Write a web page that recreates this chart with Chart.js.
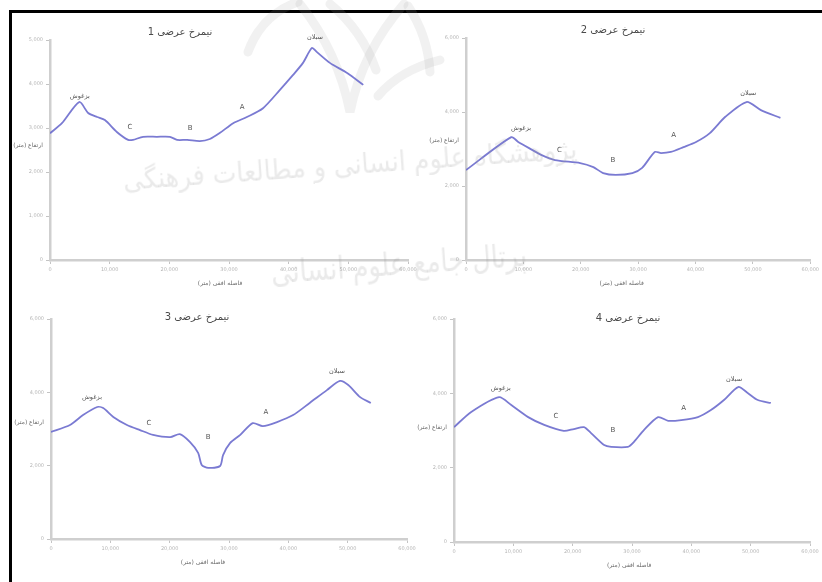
<!DOCTYPE html>
<html lang="fa">
<head>
<meta charset="utf-8">
<script src="https://cdn.jsdelivr.net/npm/chart.js@4.4.1/dist/chart.umd.min.js"></script>
<style>
  html, body { margin: 0; padding: 0; background: #fff; }
  body { width: 822px; height: 582px; position: relative; overflow: hidden; font-family: "DejaVu Sans", sans-serif; }
  .frame { position: absolute; left: 9px; top: 10px; width: 830px; height: 600px; border-left: 3px solid #000; border-top: 3px solid #000; }
  canvas.panel { position: absolute; }
  .wm { position: absolute; direction: rtl; text-align: center; white-space: nowrap; color: rgba(150,150,150,0.2); font-family: "DejaVu Sans", sans-serif; pointer-events: none; }
  svg.logo { position: absolute; left: 0; top: 0; pointer-events: none; }
</style>
</head>
<body>
<div class="frame"></div>
<svg class="logo" width="822" height="582" viewBox="0 0 822 582">
  <g fill="none" stroke="rgba(160,160,160,0.15)" stroke-width="9" stroke-linecap="round">
    <path d="M248,52 Q262,14 298,2"/>
    <path d="M300,4 Q338,52 350,112 Q362,52 404,4"/>
    <path d="M330,4 Q362,30 376,70"/>
    <path d="M408,6 Q428,36 430,72"/>
    <path d="M378,96 Q400,70 440,60"/>
  </g>
</svg>
<canvas id="p1" class="panel"></canvas>
<canvas id="p2" class="panel"></canvas>
<canvas id="p3" class="panel"></canvas>
<canvas id="p4" class="panel"></canvas>
<div class="wm" style="left:50px; top:148px; width:600px; font-size:28px; transform: rotate(-4deg) scaleX(0.9);">پژوهشگاه علوم انسانی و مطالعات فرهنگی</div>
<div class="wm" style="left:257px; top:244px; width:300px; font-size:32px; transform: rotate(-4deg) scaleX(0.8);">پرتال جامع علوم انسانی</div>
<script>
// Profile 1: horizontal distance (m) and elevation (m)
const distance1 = [0, 2000, 4900, 6400, 7900, 9200, 11200, 13100, 13900, 15600, 17900, 20100, 21300, 23000, 25100, 26800, 28500, 30700, 33000, 35700, 38500, 40700, 42400, 43900, 44700, 46900, 49800, 52500];
const elevation1 = [2880, 3110, 3590, 3340, 3250, 3180, 2910, 2730, 2730, 2800, 2800, 2800, 2730, 2730, 2700, 2750, 2890, 3110, 3250, 3450, 3860, 4200, 4480, 4820, 4730, 4480, 4250, 3980];

// Profile 2
const distance2 = [0, 7900, 9100, 11600, 13100, 15500, 19900, 22200, 23900, 26100, 29000, 30700, 32900, 34000, 35700, 37900, 40100, 42500, 45200, 48900, 51400, 54800];
const elevation2 = [2430, 3320, 3190, 2970, 2840, 2700, 2620, 2510, 2350, 2300, 2350, 2490, 2920, 2890, 2920, 3050, 3190, 3430, 3870, 4270, 4050, 3840];

// Profile 3
const distance3 = [0, 3200, 5400, 7800, 8800, 10500, 12800, 15000, 17200, 20100, 21700, 23400, 24800, 25400, 26500, 28500, 29000, 30200, 31900, 34000, 35700, 38100, 40800, 43600, 46500, 48700, 50100, 52100, 53900];
const elevation3 = [2920, 3110, 3380, 3600, 3570, 3330, 3110, 2970, 2840, 2780, 2860, 2650, 2350, 2020, 1940, 1990, 2290, 2620, 2840, 3160, 3080, 3190, 3380, 3710, 4060, 4310, 4200, 3870, 3710];

// Profile 4
const distance4 = [0, 2900, 7600, 9600, 12500, 15200, 18500, 20200, 21900, 23100, 25300, 26500, 29300, 30300, 32000, 34400, 36100, 38300, 41100, 43300, 45500, 47900, 49500, 51200, 53400];
const elevation4 = [3090, 3500, 3900, 3690, 3360, 3150, 2990, 3040, 3090, 2930, 2610, 2560, 2560, 2690, 3010, 3360, 3260, 3280, 3360, 3550, 3820, 4170, 4010, 3820, 3740];

// Axis tick values
const distanceTicks = [0, 10000, 20000, 30000, 40000, 50000, 60000];
const elevationTicks1 = [0, 1000, 2000, 3000, 4000, 5000];
const elevationTicks234 = [0, 2000, 4000, 6000];

// Texts
const panelTitles = ["نیمرخ عرضی 1", "نیمرخ عرضی 2", "نیمرخ عرضی 3", "نیمرخ عرضی 4"];
const xAxisTitle = "فاصله افقی (متر)";
const yAxisTitle = "ارتفاع (متر)";
const westPeak = "بزغوش";
const eastPeak = "سبلان";

// Landform labels per profile: [text, distance, elevation]
const marks1 = [[westPeak, 5000, 3730], ["C", 13400, 3020], ["B", 23500, 3000], ["A", 32200, 3480], [eastPeak, 44400, 5060]];
const marks2 = [[westPeak, 9600, 3570], ["C", 16300, 2970], ["B", 25600, 2700], ["A", 36200, 3380], [eastPeak, 49200, 4510]];
const marks3 = [[westPeak, 6900, 3870], ["C", 16500, 3160], ["B", 26500, 2780], ["A", 36200, 3460], [eastPeak, 48200, 4580]];
const marks4 = [[westPeak, 7900, 4140], ["C", 17200, 3390], ["B", 26800, 3010], ["A", 38700, 3600], [eastPeak, 47200, 4380]];

const FONT = '"DejaVu Sans", sans-serif';

const profileText = {
  id: 'profileText',
  afterDatasetsDraw(chart, args, o) {
    const ctx = chart.ctx, a = chart.chartArea;
    const xs = chart.scales.x, ys = chart.scales.y;
    ctx.save();
    ctx.direction = 'rtl';
    ctx.textAlign = 'center';
    ctx.textBaseline = 'middle';
    // title
    ctx.fillStyle = '#4a4a4a';
    ctx.font = '10px ' + FONT;
    ctx.fillText(o.title, a.left + (a.right - a.left) * o.titleAt, a.top + o.titleDy);
    // axis titles
    ctx.fillStyle = '#6a6a6a';
    ctx.font = '6px ' + FONT;
    ctx.fillText(xAxisTitle, a.left + (a.right - a.left) * o.xTitleAt, a.bottom + 23);
    ctx.fillText(yAxisTitle, a.left - 22, ys.getPixelForValue(o.yTitleAt));
    // landform labels
    ctx.fillStyle = '#555';
    for (const [t, dx, el] of o.marks) {
      ctx.font = (t.length === 1 ? '7px ' : '6.5px ') + FONT;
      ctx.fillText(t, xs.getPixelForValue(dx), ys.getPixelForValue(el));
    }
    ctx.restore();
  }
};

function makeProfile(id, box, dist, elev, yTicks, text) {
  const padTop = 30, yW = 45, xH = 35;
  const cv = document.getElementById(id);
  const w = yW + box.w + box.padR, h = padTop + box.h + xH;
  cv.width = w; cv.height = h;
  cv.style.left = (box.left - yW) + 'px';
  cv.style.top = (box.top - padTop) + 'px';
  cv.style.width = w + 'px'; cv.style.height = h + 'px';
  const axisCommon = {
    border: { display: true, color: '#cfcfcf', width: 2.5 },
    grid: { drawOnChartArea: false, color: '#c4c4c4', tickLength: 4, lineWidth: 1 },
    ticks: { color: '#b5b5b5', font: { size: 5, family: FONT }, padding: 3 }
  };
  new Chart(cv, {
    type: 'line',
    data: {
      datasets: [{
        data: dist.map((d, i) => ({ x: d, y: elev[i] })),
        borderColor: 'rgba(108,108,205,0.9)',
        borderWidth: 1.8,
        pointRadius: 0,
        tension: 0.25,
        fill: false
      }]
    },
    options: {
      responsive: false,
      animation: false,
      devicePixelRatio: 1,
      layout: { padding: { top: padTop, right: box.padR, left: 0, bottom: 0 } },
      plugins: { legend: { display: false }, tooltip: { enabled: false }, profileText: text },
      scales: {
        x: {
          ...axisCommon, type: 'linear', min: distanceTicks[0], max: distanceTicks[distanceTicks.length - 1],
          afterBuildTicks: s => { s.ticks = distanceTicks.map(v => ({ value: v })); },
          afterFit: s => { s.height = xH; },
          ticks: { ...axisCommon.ticks, maxRotation: 0 }
        },
        y: {
          ...axisCommon, type: 'linear', min: yTicks[0], max: yTicks[yTicks.length - 1],
          afterBuildTicks: s => { s.ticks = yTicks.map(v => ({ value: v })); },
          afterFit: s => { s.width = yW; }
        }
      }
    },
    plugins: [profileText]
  });
}

makeProfile('p1', { left: 50, top: 40, w: 358, h: 220, padR: 12 }, distance1, elevation1, elevationTicks1,
  { title: panelTitles[0], titleAt: 0.363, titleDy: -8, xTitleAt: 0.475, yTitleAt: 2600, marks: marks1 });
makeProfile('p2', { left: 466, top: 38, w: 356, h: 222, padR: 0 }, distance2, elevation2, elevationTicks234,
  { title: panelTitles[1], titleAt: 0.427, titleDy: -8, xTitleAt: 0.452, yTitleAt: 3220, marks: marks2 });
makeProfile('p3', { left: 51, top: 319, w: 356, h: 220, padR: 12 }, distance3, elevation3, elevationTicks234,
  { title: panelTitles[2], titleAt: 0.41, titleDy: -2, xTitleAt: 0.427, yTitleAt: 3190, marks: marks3 });
makeProfile('p4', { left: 454, top: 319, w: 356, h: 223, padR: 12 }, distance4, elevation4, elevationTicks234,
  { title: panelTitles[3], titleAt: 0.489, titleDy: -1, xTitleAt: 0.492, yTitleAt: 3090, marks: marks4 });
</script>
</body>
</html>
